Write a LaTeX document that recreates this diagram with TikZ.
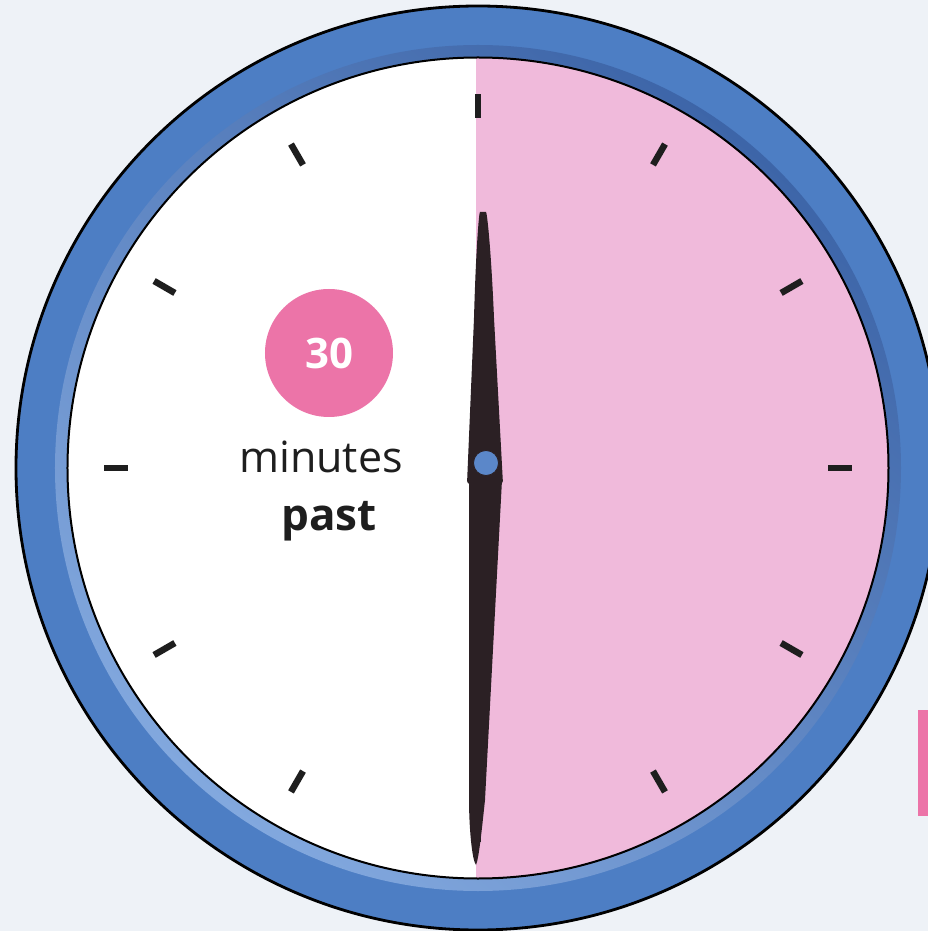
\documentclass[tikz,border=0pt]{standalone}
\usepackage{fontspec}
\setmainfont{Open Sans}
\usepackage{tikz}
\definecolor{paperbg}{HTML}{EEF2F7}
\definecolor{ringblue}{HTML}{4D7EC4}
\definecolor{ringlight}{HTML}{82A8DE}
\definecolor{ringdark}{HTML}{3D65A8}
\definecolor{facepink}{HTML}{F0BADB}
\definecolor{badgepink}{HTML}{EC74A8}
\definecolor{handink}{HTML}{2B2024}
\definecolor{hubblue}{HTML}{5B87C9}
\definecolor{ink}{HTML}{1E1E1E}
\tikzset{
  ticktick/.style={line width=6.5pt,color=ink},
  rimline/.style={draw=black,line width=2.8pt},
  handshape/.style={fill=handink,draw=none},
  bigword/.style={font=\fontsize{43}{50}\selectfont,text=ink,anchor=base,inner sep=0pt}
}
\begin{document}
\begin{tikzpicture}[x=1pt,y=1pt]
  \useasboundingbox (-478,-463) rectangle (450,468);
  \fill[paperbg] (-478,-463) rectangle (450,468);
  % rim
  \fill[ringblue,rimline] (0,0) circle (462);
  \shade[even odd rule,top color=ringdark,bottom color=ringlight,shading angle=-40]
    (0,0) circle (423) circle (410);
  % face, half pink
  \fill[white] (0,0) circle (410);
  \begin{scope}
    \clip (0,0) circle (410);
    \fill[facepink] (-2,-420) rectangle (420,420);
  \end{scope}
  \draw[black,line width=2pt] (0,0) circle (410.5);
  % hour marks
  \foreach \k in {0,...,11}
    \draw[ticktick] (90-30*\k:350) -- (90-30*\k:374);
  % label
  \node[circle,fill=badgepink,minimum size=128pt,inner sep=0pt,
        font=\fontsize{42}{48}\bfseries\selectfont,text=white] (badge) at (-149,115) {30};
  \node[bigword] (mins) at (-157,-5) {minutes};
  \node[bigword,font=\fontsize{44}{50}\bfseries\selectfont] (past) at (-149,-62) {past};
  % hands
  \fill[handshape] (-9,-12) -- (24,-12) -- (7,-332) .. controls (4,-360) and (1,-390) .. (-2,-397)
    .. controls (-6,-392) and (-9,-360) .. (-9,-330) -- cycle;
  \fill[handshape,rounded corners=3pt] (-11,-16) -- (25,-16) -- (16,150)
    .. controls (13,220) and (9,256) .. (5,256)
    .. controls (1,256) and (-2,220) .. (-4,150) -- cycle;
  \node[circle,fill=hubblue,draw=handink,line width=0.8pt,minimum size=25pt,inner sep=0pt] (hub) at (8,5) {};
  % tab at the edge
  \fill[badgepink] (440,-242) rectangle (450,-348);
\end{tikzpicture}
\end{document}
